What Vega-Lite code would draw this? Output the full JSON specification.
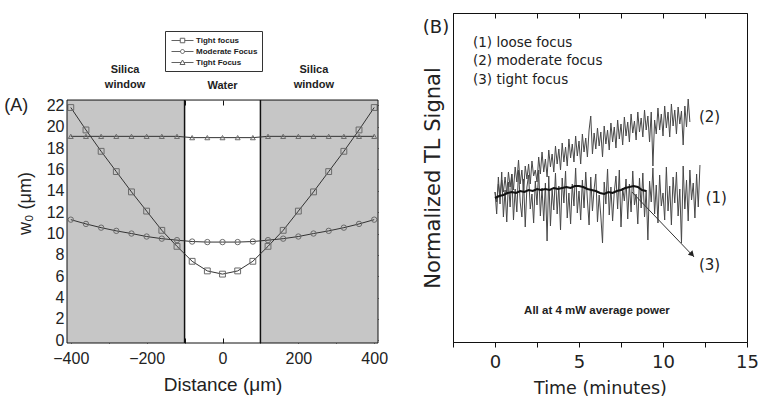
{
"$schema": "https://vega.github.io/schema/vega-lite/v6.json",
"padding": {"left": 4, "top": 12, "right": 0, "bottom": 0},
"spacing": 33,
"config": {"font": "Liberation Sans", "view": {"stroke": "#111", "strokeWidth": 1}, "axis": {"grid": false, "domainColor": "#111", "tickColor": "#111", "labelColor": "#222", "titleColor": "#222", "titleFontWeight": "normal", "labelFlush": false}},
"datasets": {
"A": [
{"d":-400,"w":21.8,"s":"Tight focus"},{"d":-360,"w":19.7,"s":"Tight focus"},{"d":-320,"w":17.7,"s":"Tight focus"},{"d":-280,"w":15.8,"s":"Tight focus"},{"d":-240,"w":13.9,"s":"Tight focus"},{"d":-200,"w":12.1,"s":"Tight focus"},{"d":-160,"w":10.3,"s":"Tight focus"},{"d":-120,"w":8.8,"s":"Tight focus"},{"d":-80,"w":7.4,"s":"Tight focus"},{"d":-40,"w":6.5,"s":"Tight focus"},{"d":0,"w":6.2,"s":"Tight focus"},{"d":40,"w":6.5,"s":"Tight focus"},{"d":80,"w":7.4,"s":"Tight focus"},{"d":120,"w":8.8,"s":"Tight focus"},{"d":160,"w":10.3,"s":"Tight focus"},{"d":200,"w":12.1,"s":"Tight focus"},{"d":240,"w":13.9,"s":"Tight focus"},{"d":280,"w":15.8,"s":"Tight focus"},{"d":320,"w":17.7,"s":"Tight focus"},{"d":360,"w":19.7,"s":"Tight focus"},{"d":400,"w":21.8,"s":"Tight focus"},
{"d":-400,"w":11.3,"s":"Moderate Focus"},{"d":-360,"w":10.9,"s":"Moderate Focus"},{"d":-320,"w":10.55,"s":"Moderate Focus"},{"d":-280,"w":10.25,"s":"Moderate Focus"},{"d":-240,"w":10.0,"s":"Moderate Focus"},{"d":-200,"w":9.72,"s":"Moderate Focus"},{"d":-160,"w":9.52,"s":"Moderate Focus"},{"d":-120,"w":9.38,"s":"Moderate Focus"},{"d":-80,"w":9.25,"s":"Moderate Focus"},{"d":-40,"w":9.2,"s":"Moderate Focus"},{"d":0,"w":9.2,"s":"Moderate Focus"},{"d":40,"w":9.2,"s":"Moderate Focus"},{"d":80,"w":9.25,"s":"Moderate Focus"},{"d":120,"w":9.38,"s":"Moderate Focus"},{"d":160,"w":9.52,"s":"Moderate Focus"},{"d":200,"w":9.72,"s":"Moderate Focus"},{"d":240,"w":10.0,"s":"Moderate Focus"},{"d":280,"w":10.25,"s":"Moderate Focus"},{"d":320,"w":10.55,"s":"Moderate Focus"},{"d":360,"w":10.9,"s":"Moderate Focus"},{"d":400,"w":11.3,"s":"Moderate Focus"},
{"d":-400,"w":19.1,"s":"Tight Focus"},{"d":-360,"w":19.1,"s":"Tight Focus"},{"d":-320,"w":19.1,"s":"Tight Focus"},{"d":-280,"w":19.1,"s":"Tight Focus"},{"d":-240,"w":19.1,"s":"Tight Focus"},{"d":-200,"w":19.1,"s":"Tight Focus"},{"d":-160,"w":19.1,"s":"Tight Focus"},{"d":-120,"w":19.1,"s":"Tight Focus"},{"d":-80,"w":18.98,"s":"Tight Focus"},{"d":-40,"w":18.98,"s":"Tight Focus"},{"d":0,"w":18.98,"s":"Tight Focus"},{"d":40,"w":18.98,"s":"Tight Focus"},{"d":80,"w":18.98,"s":"Tight Focus"},{"d":120,"w":19.1,"s":"Tight Focus"},{"d":160,"w":19.1,"s":"Tight Focus"},{"d":200,"w":19.1,"s":"Tight Focus"},{"d":240,"w":19.1,"s":"Tight Focus"},{"d":280,"w":19.1,"s":"Tight Focus"},{"d":320,"w":19.1,"s":"Tight Focus"},{"d":360,"w":19.1,"s":"Tight Focus"},{"d":400,"w":19.1,"s":"Tight Focus"}
],
"tight": [
{"t":0,"v":150},{"t":0.1,"v":128},{"t":0.2,"v":165},{"t":0.3,"v":138},{"t":0.4,"v":170},{"t":0.5,"v":125},{"t":0.6,"v":152},{"t":0.7,"v":120},{"t":0.8,"v":160},{"t":0.9,"v":135},
{"t":1.0,"v":168},{"t":1.1,"v":122},{"t":1.2,"v":153},{"t":1.3,"v":130},{"t":1.4,"v":172},{"t":1.5,"v":140},{"t":1.6,"v":125},{"t":1.7,"v":163},{"t":1.8,"v":115},{"t":1.9,"v":155},
{"t":2.0,"v":167},{"t":2.1,"v":133},{"t":2.2,"v":148},{"t":2.3,"v":119},{"t":2.4,"v":161},{"t":2.5,"v":137},{"t":2.6,"v":172},{"t":2.7,"v":126},{"t":2.8,"v":154},{"t":2.9,"v":121},
{"t":3.0,"v":159},{"t":3.1,"v":101},{"t":3.2,"v":166},{"t":3.3,"v":116},{"t":3.4,"v":152},{"t":3.5,"v":132},{"t":3.6,"v":169},{"t":3.7,"v":128},{"t":3.8,"v":156},{"t":3.9,"v":112},
{"t":4.0,"v":164},{"t":4.1,"v":139},{"t":4.2,"v":171},{"t":4.3,"v":124},{"t":4.4,"v":149},{"t":4.5,"v":118},{"t":4.6,"v":158},{"t":4.7,"v":136},{"t":4.8,"v":174},{"t":4.9,"v":129},
{"t":5.0,"v":151},{"t":5.1,"v":122},{"t":5.2,"v":162},{"t":5.3,"v":134},{"t":5.4,"v":170},{"t":5.5,"v":142},{"t":5.6,"v":117},{"t":5.7,"v":165},{"t":5.8,"v":131},{"t":5.9,"v":153},
{"t":6.0,"v":168},{"t":6.1,"v":120},{"t":6.2,"v":147},{"t":6.3,"v":126},{"t":6.4,"v":99},{"t":6.5,"v":160},{"t":6.6,"v":138},{"t":6.7,"v":173},{"t":6.8,"v":127},{"t":6.9,"v":155},
{"t":7.0,"v":121},{"t":7.1,"v":150},{"t":7.2,"v":166},{"t":7.3,"v":133},{"t":7.4,"v":172},{"t":7.5,"v":115},{"t":7.6,"v":154},{"t":7.7,"v":141},{"t":7.8,"v":163},{"t":7.9,"v":123},
{"t":8.0,"v":158},{"t":8.1,"v":130},{"t":8.2,"v":171},{"t":8.3,"v":137},{"t":8.4,"v":148},{"t":8.5,"v":118},{"t":8.6,"v":164},{"t":8.7,"v":134},{"t":8.8,"v":169},{"t":8.9,"v":125},
{"t":9.0,"v":152},{"t":9.1,"v":102},{"t":9.2,"v":161},{"t":9.3,"v":140},{"t":9.4,"v":174},{"t":9.5,"v":128},{"t":9.6,"v":157},{"t":9.7,"v":119},{"t":9.8,"v":167},{"t":9.9,"v":136},
{"t":10.0,"v":149},{"t":10.1,"v":122},{"t":10.2,"v":175},{"t":10.3,"v":131},{"t":10.4,"v":156},{"t":10.5,"v":117},{"t":10.6,"v":165},{"t":10.7,"v":139},{"t":10.8,"v":170},{"t":10.9,"v":126},
{"t":11.0,"v":153},{"t":11.1,"v":99},{"t":11.2,"v":176},{"t":11.3,"v":133},{"t":11.4,"v":162},{"t":11.5,"v":121},{"t":11.6,"v":172},{"t":11.7,"v":142},{"t":11.8,"v":159},{"t":11.9,"v":124},
{"t":12.0,"v":168},{"t":12.1,"v":135},{"t":12.2,"v":177}
],
"moderate": [
{"t":0,"v":150},{"t":0.1,"v":140},{"t":0.2,"v":158},{"t":0.3,"v":146},{"t":0.4,"v":162},{"t":0.5,"v":150},{"t":0.6,"v":165},{"t":0.7,"v":148},{"t":0.8,"v":170},{"t":0.9,"v":155},
{"t":1.0,"v":168},{"t":1.1,"v":152},{"t":1.2,"v":175},{"t":1.3,"v":160},{"t":1.4,"v":182},{"t":1.5,"v":158},{"t":1.6,"v":172},{"t":1.7,"v":150},{"t":1.8,"v":176},{"t":1.9,"v":163},
{"t":2.0,"v":178},{"t":2.1,"v":158},{"t":2.2,"v":181},{"t":2.3,"v":166},{"t":2.4,"v":172},{"t":2.5,"v":160},{"t":2.6,"v":185},{"t":2.7,"v":168},{"t":2.8,"v":190},{"t":2.9,"v":170},
{"t":3.0,"v":183},{"t":3.1,"v":165},{"t":3.2,"v":192},{"t":3.3,"v":175},{"t":3.4,"v":188},{"t":3.5,"v":170},{"t":3.6,"v":196},{"t":3.7,"v":178},{"t":3.8,"v":193},{"t":3.9,"v":172},
{"t":4.0,"v":199},{"t":4.1,"v":180},{"t":4.2,"v":195},{"t":4.3,"v":176},{"t":4.4,"v":203},{"t":4.5,"v":184},{"t":4.6,"v":198},{"t":4.7,"v":180},{"t":4.8,"v":206},{"t":4.9,"v":186},
{"t":5.0,"v":201},{"t":5.1,"v":178},{"t":5.2,"v":208},{"t":5.3,"v":190},{"t":5.4,"v":204},{"t":5.5,"v":185},{"t":5.6,"v":212},{"t":5.7,"v":226},{"t":5.8,"v":188},{"t":5.9,"v":209},
{"t":6.0,"v":193},{"t":6.1,"v":214},{"t":6.2,"v":196},{"t":6.3,"v":210},{"t":6.4,"v":185},{"t":6.5,"v":216},{"t":6.6,"v":198},{"t":6.7,"v":212},{"t":6.8,"v":192},{"t":6.9,"v":219},
{"t":7.0,"v":200},{"t":7.1,"v":215},{"t":7.2,"v":194},{"t":7.3,"v":222},{"t":7.4,"v":203},{"t":7.5,"v":218},{"t":7.6,"v":197},{"t":7.7,"v":225},{"t":7.8,"v":206},{"t":7.9,"v":220},
{"t":8.0,"v":200},{"t":8.1,"v":228},{"t":8.2,"v":209},{"t":8.3,"v":221},{"t":8.4,"v":202},{"t":8.5,"v":230},{"t":8.6,"v":210},{"t":8.7,"v":224},{"t":8.8,"v":205},{"t":8.9,"v":232},
{"t":9.0,"v":212},{"t":9.1,"v":226},{"t":9.2,"v":200},{"t":9.3,"v":230},{"t":9.4,"v":176},{"t":9.5,"v":222},{"t":9.6,"v":208},{"t":9.7,"v":234},{"t":9.8,"v":212},{"t":9.9,"v":228},
{"t":10.0,"v":206},{"t":10.1,"v":236},{"t":10.2,"v":214},{"t":10.3,"v":230},{"t":10.4,"v":205},{"t":10.5,"v":238},{"t":10.6,"v":216},{"t":10.7,"v":232},{"t":10.8,"v":208},{"t":10.9,"v":235},
{"t":11.0,"v":218},{"t":11.1,"v":231},{"t":11.2,"v":197},{"t":11.3,"v":236},{"t":11.4,"v":215},{"t":11.5,"v":243},{"t":11.6,"v":220}
],
"loose": [
{"t":0,"v":144},{"t":0.25,"v":146},{"t":0.5,"v":147},{"t":0.75,"v":149},{"t":1.0,"v":150},{"t":1.25,"v":149},{"t":1.5,"v":151},{"t":1.75,"v":150},{"t":2.0,"v":152},{"t":2.25,"v":151},{"t":2.5,"v":153},{"t":2.75,"v":152},{"t":3.0,"v":153},{"t":3.25,"v":152},{"t":3.5,"v":154},{"t":3.75,"v":153},{"t":4.0,"v":154},{"t":4.25,"v":155},{"t":4.5,"v":154},{"t":4.75,"v":156},{"t":5.0,"v":156},{"t":5.25,"v":155},{"t":5.5,"v":153},{"t":5.75,"v":152},{"t":6.0,"v":151},{"t":6.25,"v":149},{"t":6.5,"v":148},{"t":6.75,"v":150},{"t":7.0,"v":149},{"t":7.25,"v":151},{"t":7.5,"v":152},{"t":7.75,"v":154},{"t":8.0,"v":155},{"t":8.25,"v":156},{"t":8.5,"v":155},{"t":8.75,"v":152},{"t":9.0,"v":151}
]
},
"hconcat": [
{
"width": 311, "height": 330,
"view": {"stroke": null},
"layer": [
{"data": {"values": [{"a": -410, "b": -100}, {"a": 100, "b": 410}]},
 "mark": {"type": "rect", "fill": "#c6c6c6"},
 "encoding": {"x": {"field": "a", "type": "quantitative", "scale": {"domain": [-410, 410], "nice": false, "zero": false},
   "axis": {"orient": "bottom", "values": [-400, -300, -200, -100, 0, 100, 200, 300, 400], "labelExpr": "datum.value % 200 === 0 ? datum.label : ''", "tickSize": -5, "domain": false, "labelPadding": 12, "labelFontSize": 16, "labelFlush": false, "title": "Distance (μm)", "titleFontSize": 19, "titlePadding": 9}},
  "x2": {"field": "b"},
  "y": {"datum": -0.25, "type": "quantitative", "scale": {"domain": [-0.25, 30.65], "nice": false, "zero": false}, "axis": null},
  "y2": {"datum": 22.5}}},
{"data": {"values": [{"a": -100}, {"a": 100}]},
 "mark": {"type": "rule", "color": "#111", "strokeWidth": 1.5},
 "encoding": {"x": {"field": "a", "type": "quantitative", "scale": {"domain": [-410, 410], "nice": false, "zero": false},
   "axis": {"orient": "top", "offset": -87, "values": [-400, -300, -200, -100, 0, 100, 200, 300, 400], "tickSize": -5, "labels": false, "domain": false, "title": null}},
  "y": {"datum": -0.25, "type": "quantitative", "scale": {"domain": [-0.25, 30.65], "nice": false, "zero": false}, "axis": null},
  "y2": {"datum": 22.5}}},
{"data": {"name": "A"},
 "mark": {"type": "line", "color": "#333", "strokeWidth": 1},
 "encoding": {"x": {"field": "d", "type": "quantitative", "scale": {"domain": [-410, 410], "nice": false, "zero": false}, "axis": null},
  "y": {"field": "w", "type": "quantitative", "scale": {"domain": [-0.25, 30.65], "nice": false, "zero": false},
   "axis": {"orient": "left", "values": [0, 2, 4, 6, 8, 10, 12, 14, 16, 18, 20, 22], "tickSize": -5, "domain": false, "labelPadding": 8, "labelFontSize": 16, "title": "w₀ (μm)", "titleFontSize": 18, "titlePadding": 12, "titleY": 190, "titleAlign": "center", "titleAngle": 270}},
  "detail": {"field": "s", "type": "nominal"}}},
{"data": {"name": "A"},
 "mark": {"type": "point", "filled": false, "color": "#6a6a6a", "strokeWidth": 1, "opacity": 1},
 "encoding": {"x": {"field": "d", "type": "quantitative", "scale": {"domain": [-410, 410], "nice": false, "zero": false}, "axis": null},
  "y": {"field": "w", "type": "quantitative", "scale": {"domain": [-0.25, 30.65], "nice": false, "zero": false},
   "axis": {"orient": "right", "values": [0, 2, 4, 6, 8, 10, 12, 14, 16, 18, 20, 22], "tickSize": -5, "labels": false, "domain": false, "title": null}},
  "shape": {"field": "s", "type": "nominal", "scale": {"domain": ["Tight focus", "Moderate Focus", "Tight Focus"], "range": ["square", "circle", "triangle-up"]}, "legend": null},
  "size": {"field": "s", "type": "nominal", "scale": {"domain": ["Tight focus", "Moderate Focus", "Tight Focus"], "range": [34, 24, 44]}, "legend": null}}},
{"data": {"values": [{}]},
 "mark": {"type": "rect", "fillOpacity": 0, "stroke": "#111", "strokeWidth": 1},
 "encoding": {"x": {"datum": -410, "type": "quantitative", "scale": {"domain": [-410, 410], "nice": false, "zero": false}, "axis": null},
  "x2": {"datum": 410},
  "y": {"datum": -0.25, "type": "quantitative", "scale": {"domain": [-0.25, 30.65], "nice": false, "zero": false}, "axis": null},
  "y2": {"datum": 22.5}}},
{"data": {"values": []},
 "mark": {"type": "point", "filled": false, "color": "#222"},
 "encoding": {"x": {"field": "d", "type": "quantitative", "scale": {"domain": [-410, 410], "nice": false, "zero": false}, "axis": null},
  "y": {"field": "w", "type": "quantitative", "scale": {"domain": [-0.25, 30.65], "nice": false, "zero": false}, "axis": null},
  "shape": {"field": "s", "type": "nominal",
   "scale": {"domain": ["Tight focus", "Moderate Focus", "Tight Focus"], "range": ["M-1,0H0.75M1.65,0H3.4M0.75,-0.45H1.65V0.45H0.75Z", "M-1,0H0.8M1.6,0H3.4M0.8,0A0.4,0.4,0,1,1,1.6,0A0.4,0.4,0,1,1,0.8,0Z", "M-1,0H0.92M1.48,0H3.4M0.7,0.4L1.2,-0.5L1.7,0.4Z"]},
   "legend": {"orient": "none", "legendX": 98, "legendY": 18, "title": null, "strokeColor": "#333", "padding": 4, "labelFontSize": 8, "labelFontWeight": "bold", "labelColor": "#222", "symbolSize": 100, "symbolStrokeColor": "#222", "symbolFillColor": "transparent", "symbolStrokeWidth": 1, "labelOffset": 14, "rowPadding": 1, "symbolOffset": 2}}}},
{"data": {"values": [{"x": -257, "y": 25.87, "l": "Silica\nwindow"}, {"x": 241, "y": 25.87, "l": "Silica\nwindow"}, {"x": 0, "y": 24.37, "l": "Water"}]},
 "mark": {"type": "text", "fontWeight": "bold", "fontSize": 11, "lineBreak": "\n", "lineHeight": 15, "baseline": "top", "align": "center", "color": "#222"},
 "encoding": {"x": {"field": "x", "type": "quantitative", "scale": {"domain": [-410, 410], "nice": false, "zero": false}, "axis": null},
  "y": {"field": "y", "type": "quantitative", "scale": {"domain": [-0.25, 30.65], "nice": false, "zero": false}, "axis": null},
  "text": {"field": "l"}}},
{"data": {"values": [{"x": -544, "y": 21.9, "l": "(A)"}]},
 "mark": {"type": "text", "fontSize": 18, "baseline": "middle", "align": "center", "color": "#222"},
 "encoding": {"x": {"field": "x", "type": "quantitative", "scale": {"domain": [-410, 410], "nice": false, "zero": false}, "axis": null},
  "y": {"field": "y", "type": "quantitative", "scale": {"domain": [-0.25, 30.65], "nice": false, "zero": false}, "axis": null},
  "text": {"field": "l"}}}
],
"resolve": {"scale": {"shape": "independent", "size": "independent"}, "axis": {"x": "independent", "y": "independent"}}
},
{
"width": 294, "height": 329,
"layer": [
{"data": {"name": "tight"},
 "mark": {"type": "line", "color": "#484848", "strokeWidth": 1},
 "encoding": {"x": {"field": "t", "type": "quantitative", "scale": {"domain": [-2.5, 15], "nice": false, "zero": false},
   "axis": {"orient": "bottom", "values": [-2.5, 0, 2.5, 5, 7.5, 10, 12.5, 15], "format": "~g", "labelExpr": "datum.value % 5 === 0 ? datum.label : ''", "tickSize": 5, "labelPadding": 6, "labelFont": "DejaVu Sans", "labelFontSize": 18, "labelFlush": false, "title": "Time (minutes)", "titleFont": "DejaVu Sans", "titleFontSize": 17.5, "titlePadding": 8}},
  "y": {"field": "v", "type": "quantitative", "scale": {"domain": [0, 329], "nice": false, "zero": false},
   "axis": {"orient": "left", "ticks": false, "labels": false, "title": "Normalized TL Signal", "titleFont": "DejaVu Sans", "titleFontSize": 21, "titlePadding": 10}}}},
{"data": {"name": "moderate"},
 "mark": {"type": "line", "color": "#484848", "strokeWidth": 1},
 "encoding": {"x": {"field": "t", "type": "quantitative", "scale": {"domain": [-2.5, 15], "nice": false, "zero": false},
   "axis": {"orient": "top", "values": [-2.5, 0, 2.5, 5, 7.5, 10, 12.5, 15], "tickSize": -5, "labels": false, "domain": false, "title": null}},
  "y": {"field": "v", "type": "quantitative", "scale": {"domain": [0, 329], "nice": false, "zero": false}, "axis": null}}},
{"data": {"name": "loose"},
 "mark": {"type": "line", "color": "#111", "strokeWidth": 2},
 "encoding": {"x": {"field": "t", "type": "quantitative", "scale": {"domain": [-2.5, 15], "nice": false, "zero": false}, "axis": null},
  "y": {"field": "v", "type": "quantitative", "scale": {"domain": [0, 329], "nice": false, "zero": false}, "axis": null}}},
{"data": {"values": [{"t": 8.15, "v": 150, "t2": 11.85, "v2": 85}]},
 "mark": {"type": "rule", "color": "#333", "strokeWidth": 1},
 "encoding": {"x": {"field": "t", "type": "quantitative", "scale": {"domain": [-2.5, 15], "nice": false, "zero": false}, "axis": null},
  "y": {"field": "v", "type": "quantitative", "scale": {"domain": [0, 329], "nice": false, "zero": false}, "axis": null},
  "x2": {"field": "t2"}, "y2": {"field": "v2"}}},
{"data": {"values": [{"t": 11.73, "v": 87.5}]},
 "mark": {"type": "point", "shape": "triangle-up", "angle": 136, "size": 40, "filled": true, "color": "#222", "opacity": 1},
 "encoding": {"x": {"field": "t", "type": "quantitative", "scale": {"domain": [-2.5, 15], "nice": false, "zero": false}, "axis": null},
  "y": {"field": "v", "type": "quantitative", "scale": {"domain": [0, 329], "nice": false, "zero": false}, "axis": null}}},
{"data": {"values": [{"t": -1.31, "v": 299, "l": "(1) loose focus"}, {"t": -1.31, "v": 281, "l": "(2) moderate focus"}, {"t": -1.31, "v": 262, "l": "(3) tight focus"}]},
 "mark": {"type": "text", "align": "left", "baseline": "middle", "fontSize": 13.5, "font": "DejaVu Sans", "color": "#222"},
 "encoding": {"x": {"field": "t", "type": "quantitative", "scale": {"domain": [-2.5, 15], "nice": false, "zero": false}, "axis": null},
  "y": {"field": "v", "type": "quantitative", "scale": {"domain": [0, 329], "nice": false, "zero": false}, "axis": null},
  "text": {"field": "l"}}},
{"data": {"values": [{"t": 12.14, "v": 225, "l": "(2)"}, {"t": 12.54, "v": 144, "l": "(1)"}, {"t": 12.14, "v": 77, "l": "(3)"}]},
 "mark": {"type": "text", "align": "left", "baseline": "middle", "fontSize": 15, "font": "DejaVu Sans", "color": "#222"},
 "encoding": {"x": {"field": "t", "type": "quantitative", "scale": {"domain": [-2.5, 15], "nice": false, "zero": false}, "axis": null},
  "y": {"field": "v", "type": "quantitative", "scale": {"domain": [0, 329], "nice": false, "zero": false}, "axis": null},
  "text": {"field": "l"}}},
{"data": {"values": [{"t": 6.07, "v": 31, "l": "All at 4 mW average power"}]},
 "mark": {"type": "text", "align": "center", "baseline": "middle", "fontSize": 11.5, "fontWeight": "bold", "color": "#222"},
 "encoding": {"x": {"field": "t", "type": "quantitative", "scale": {"domain": [-2.5, 15], "nice": false, "zero": false}, "axis": null},
  "y": {"field": "v", "type": "quantitative", "scale": {"domain": [0, 329], "nice": false, "zero": false}, "axis": null},
  "text": {"field": "l"}}},
{"data": {"values": [{"t": -3.51, "v": 314, "l": "(B)"}]},
 "mark": {"type": "text", "align": "center", "baseline": "middle", "fontSize": 18, "font": "DejaVu Sans", "color": "#222"},
 "encoding": {"x": {"field": "t", "type": "quantitative", "scale": {"domain": [-2.5, 15], "nice": false, "zero": false}, "axis": null},
  "y": {"field": "v", "type": "quantitative", "scale": {"domain": [0, 329], "nice": false, "zero": false}, "axis": null},
  "text": {"field": "l"}}}
],
"resolve": {"axis": {"x": "independent", "y": "independent"}}
}
]
}
